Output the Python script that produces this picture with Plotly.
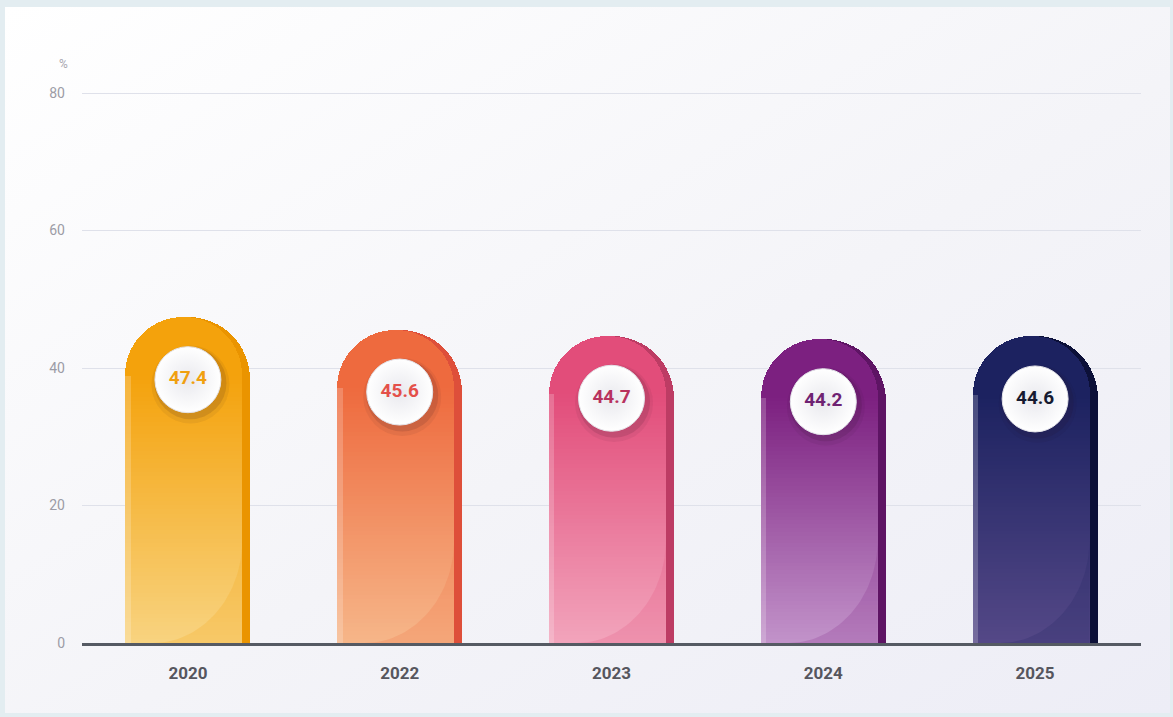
import base64
import math
import plotly.graph_objects as go

# ---- data -------------------------------------------------------------
years = ["2020", "2022", "2023", "2024", "2025"]
shares = [47.4, 45.6, 44.7, 44.2, 44.6]

# ---- per-bar palette ----------------------------------------------------
top_colors = ["#f4a20c", "#ee6a3e", "#e24d7a", "#7c2080", "#1c2260"]
bottom_colors = ["#f8d380", "#f6b689", "#f2a4bc", "#c293ca", "#544887"]
edge_colors = ["#ea9400", "#de4f3a", "#bd3c64", "#5e1464", "#0c1038"]
label_colors = ["#f0a010", "#e4504a", "#b8325e", "#6e2272", "#161a30"]

# ---- geometry / style constants ----------------------------------------
W, H = 1173, 717
M_L, M_R, M_T, M_B = 82, 32, 90, 74
Y_TOP = 80 * (H - M_T - M_B) / 550   # keeps 80 at the same height, grid line visible
BAR_W = 0.59          # bar width in category units
CAP_R = 9.1           # radius of the rounded cap, in y units
EDGE_W = 0.038        # darker rim on the right-hand side
INNER_W = BAR_W - EDGE_W
INNER_R = CAP_R * INNER_W / BAR_W
N_BANDS = 64          # slices used to build the vertical gradient


def hex_rgb(h):
    h = h.lstrip("#")
    return tuple(int(h[i:i + 2], 16) for i in (0, 2, 4))


def mix(c1, c2, t):
    a, b = hex_rgb(c1), hex_rgb(c2)
    r = [round(a[i] + (b[i] - a[i]) * t) for i in range(3)]
    return "rgb({},{},{})".format(*r)


def rgba(h, a):
    r, g, b = hex_rgb(h)
    return f"rgba({r},{g},{b},{a})"


xs = list(range(len(years)))
fig = go.Figure()

# dark full-width pill, visible as a rim on the right
fig.add_trace(go.Bar(
    x=xs, y=shares, width=BAR_W,
    marker=dict(color=edge_colors, cornerradius="50%", line=dict(width=0)),
    hoverinfo="skip", showlegend=False,
))
# main body, slightly narrower and aligned left
fig.add_trace(go.Bar(
    x=xs, y=shares, width=INNER_W, offset=-BAR_W / 2,
    marker=dict(color=top_colors, cornerradius="50%", line=dict(width=0)),
    hoverinfo="skip", showlegend=False,
))

# vertical gradient from the cap down to the baseline
for k in range(N_BANDS):
    t = (k + 0.5) / N_BANDS
    heights = [(v - INNER_R) * (1 - k / N_BANDS) for v in shares]
    cols = [mix(tc, bc, t) for tc, bc in zip(top_colors, bottom_colors)]
    fig.add_trace(go.Bar(
        x=xs, y=heights, width=INNER_W, offset=-BAR_W / 2,
        marker=dict(color=cols, line=dict(width=0)),
        hoverinfo="skip", showlegend=False,
    ))

# lighter strip on the left
fig.add_trace(go.Bar(
    x=xs, y=[v - INNER_R for v in shares], width=0.025,
    offset=-BAR_W / 2,
    marker=dict(color="rgba(255,255,255,0.2)", line=dict(width=0)),
    hoverinfo="skip", showlegend=False,
))

# glossy wedge in the lower-right of each bar
WEDGE_H = 15.0
for i, v in enumerate(shares):
    left = i - BAR_W / 2
    right = left + INNER_W
    cx = left + 0.22 * BAR_W
    a = right - cx
    px, py = [], []
    for s in range(41):
        th = (math.pi / 2) * s / 40
        px.append(cx + a * math.sin(th))
        py.append(WEDGE_H - WEDGE_H * math.cos(th))
    px += [right, cx]
    py += [0, 0]
    fig.add_trace(go.Scatter(
        x=px, y=py, mode="lines", fill="toself",
        fillcolor=rgba(top_colors[i], 0.2), line=dict(width=0),
        hoverinfo="skip", showlegend=False,
    ))

# value badges centred inside the caps
badge_y = [v - CAP_R for v in shares]
for size, alpha, dy in [(78, 0.06, -0.7), (72, 0.12, -0.5)]:
    fig.add_trace(go.Scatter(
        x=[x + 0.012 for x in xs], y=[y + dy for y in badge_y],
        mode="markers",
        marker=dict(size=size, color=f"rgba(40,20,30,{alpha})", line=dict(width=0)),
        hoverinfo="skip", showlegend=False,
    ))
fig.add_trace(go.Scatter(
    x=xs, y=badge_y, mode="markers+text",
    text=[f"{v:.1f}" for v in shares], textposition="middle center",
    textfont=dict(family="Roboto", size=19, color=label_colors, weight=700),
    marker=dict(size=66, color="#ffffff",
                gradient=dict(type="radial", color="#e9e9ee"),
                line=dict(width=1, color="#e4e4ea")),
    hoverinfo="skip", showlegend=False,
))

# card background with a soft diagonal gradient
svg = (
    '<svg xmlns="http://www.w3.org/2000/svg" viewBox="0 0 100 100" '
    'preserveAspectRatio="none" width="100" height="100">'
    '<defs><linearGradient id="g" x1="0" y1="0" x2="1" y2="1">'
    '<stop offset="0" stop-color="#ffffff"/>'
    '<stop offset="0.55" stop-color="#f4f4f8"/>'
    '<stop offset="1" stop-color="#ededf6"/>'
    '</linearGradient></defs>'
    '<rect x="0" y="0" width="100" height="100" fill="url(#g)"/></svg>'
)
svg_src = "data:image/svg+xml;base64," + base64.b64encode(svg.encode()).decode()
pw, ph = W - M_L - M_R, H - M_T - M_B
card_x0, card_x1, card_y0, card_y1 = 5, 1170, 7, 713
fig.add_layout_image(dict(
    source=svg_src, xref="paper", yref="paper",
    x=(card_x0 - M_L) / pw, y=(H - M_B - card_y0) / ph,
    sizex=(card_x1 - card_x0) / pw, sizey=(card_y1 - card_y0) / ph,
    sizing="stretch", xanchor="left", yanchor="top", layer="below",
))

fig.add_annotation(
    x=(57 - M_L) / pw, y=(H - M_B - 55) / ph, xref="paper", yref="paper",
    text="%", showarrow=False, font=dict(family="Roboto", size=12, color="#a8a8b0"),
)

fig.update_layout(
    width=W, height=H,
    margin=dict(l=M_L, r=M_R, t=M_T, b=M_B, pad=0),
    paper_bgcolor="#e3edf1", plot_bgcolor="rgba(0,0,0,0)",
    barmode="overlay", bargap=0, showlegend=False,
    font=dict(family="Roboto"),
)
fig.update_xaxes(
    tickmode="array", tickvals=xs, ticktext=years, range=[-0.5, len(years) - 0.5],
    showgrid=False, zeroline=False, showline=True, linecolor="#555a63", linewidth=3,
    ticks="", ticklabelstandoff=13,
    tickfont=dict(family="Roboto", size=17, color="#56565e", weight=700),
)
fig.update_yaxes(
    range=[0, Y_TOP], tickvals=[0, 20, 40, 60, 80], showgrid=True, gridcolor="#dfe1ea",
    gridwidth=1, zeroline=False, showline=False, ticks="", ticklabelstandoff=16,
    tickfont=dict(family="Roboto", size=14, color="#9c9ca6"),
)

fig.write_html("out.html")
